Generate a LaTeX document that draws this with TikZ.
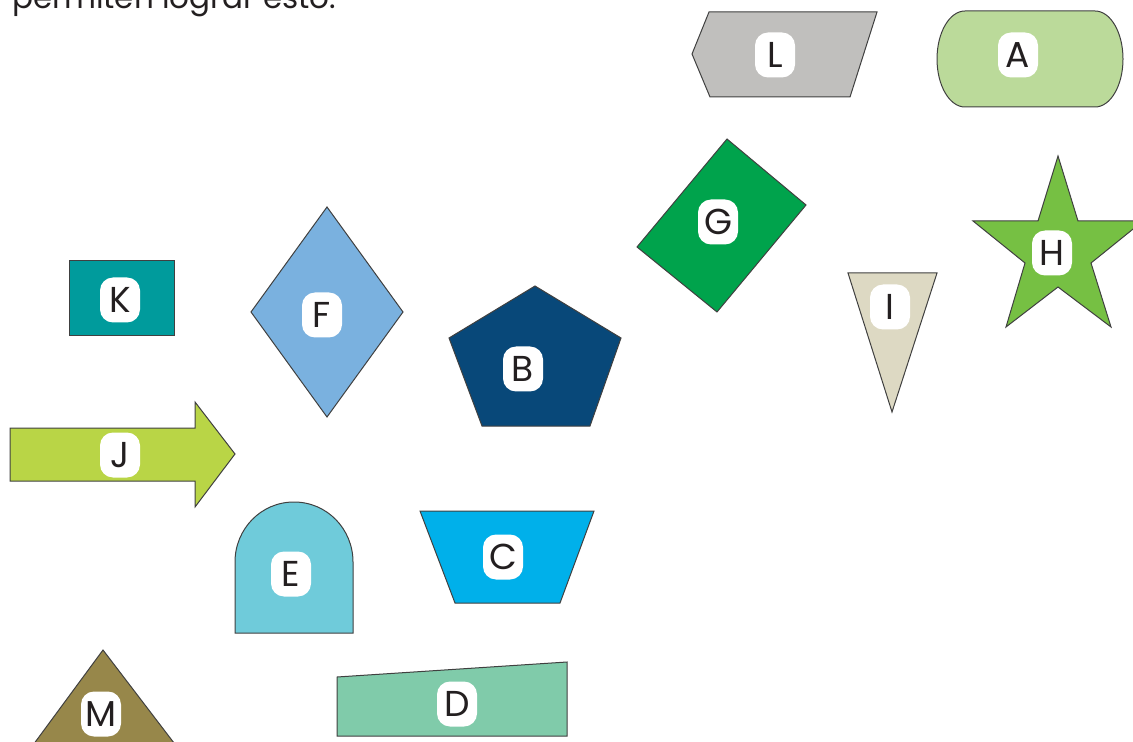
\documentclass[tikz,border=0pt]{standalone}
\usepackage{fontspec}
\setmainfont{Poppins}
\usepackage{tikz}
\definecolor{inkdark}{RGB}{35,31,32}
\definecolor{grayL}{RGB}{192,191,189}
\definecolor{greenA}{RGB}{187,218,154}
\definecolor{greenG}{RGB}{0,163,76}
\definecolor{greenH}{RGB}{118,192,67}
\definecolor{beigeI}{RGB}{221,217,195}
\definecolor{tealK}{RGB}{0,155,156}
\definecolor{blueF}{RGB}{122,177,223}
\definecolor{blueB}{RGB}{8,72,121}
\definecolor{limeJ}{RGB}{185,213,70}
\definecolor{cyanE}{RGB}{111,203,218}
\definecolor{cyanC}{RGB}{0,176,234}
\definecolor{greenD}{RGB}{128,203,170}
\definecolor{oliveM}{RGB}{151,135,74}

\begin{document}
\begin{tikzpicture}[x=0.5pt, y=-0.5pt,
  piece/.style={draw=black!75, line width=0.5pt},
  tag/.style={fill=white, rounded corners=6.5pt, minimum width=20pt, minimum height=22.5pt,
    inner sep=0pt, text height=12.6pt, text depth=0pt, text=inkdark,
    font=\fontsize{18}{18}\selectfont}]
\useasboundingbox (0,0) rectangle (1133,742);
\clip (0,0) rectangle (1133,742);
\node[anchor=base west, inner sep=0pt, text=inkdark, font=\fontsize{15.5}{18}\selectfont] (intro) at (12,9) {permiten lograr esto.};
\draw[piece, fill=grayL] (709,12) -- (877,12) -- (850,97) -- (710,97) -- (692,54) -- cycle;
\draw[piece, fill=greenA] (965,11) -- (1095,11) .. controls (1110.5,11) and (1123,32.5) .. (1123,59)
  .. controls (1123,85.5) and (1110.5,107) .. (1095,107) -- (965,107)
  .. controls (949.5,107) and (937,85.5) .. (937,59) .. controls (937,32.5) and (949.5,11) .. (965,11) -- cycle;
\draw[piece, fill=greenG] (727,139) -- (806,205) -- (717,312) -- (637,247) -- cycle;
\draw[piece, fill=greenH] (1058,156) -- (1078,221) -- (1143,221) -- (1091,263) -- (1111,327) -- (1058,287)
  -- (1006,327) -- (1025,263) -- (973,221) -- (1038,221) -- cycle;
\draw[piece, fill=beigeI] (848,273) -- (937,273) -- (892,412) -- cycle;
\draw[piece, fill=tealK] (69,261) rectangle (174,336);
\draw[piece, fill=blueF] (327,207) -- (403,312) -- (327,417) -- (251,312) -- cycle;
\draw[piece, fill=blueB] (535,286) -- (621,338) -- (590,426) -- (482,426) -- (449,338) -- cycle;
\draw[piece, fill=limeJ] (10,428) -- (195,428) -- (195,402) -- (235,454) -- (195,507) -- (195,481) -- (10,481) -- cycle;
\draw[piece, fill=cyanE] (235,633) -- (235,562) .. controls (235,529) and (261,502) .. (294,502)
  .. controls (327,502) and (353,529) .. (353,562) -- (353,633) -- cycle;
\draw[piece, fill=cyanC] (420,511) -- (594,511) -- (560,603) -- (455,603) -- cycle;
\draw[piece, fill=greenD] (337,677) -- (567,662) -- (567,736) -- (337,736) -- cycle;
\draw[piece, fill=oliveM] (103,650) -- (187,760) -- (22,760) -- cycle;
\node[tag] (tagL) at (775,55) {L};
\node[tag] (tagA) at (1018,55) {A};
\node[tag] (tagG) at (718,222) {G};
\node[tag] (tagH) at (1052,253) {H};
\node[tag] (tagI) at (890,307) {I};
\node[tag] (tagK) at (120,300) {K};
\node[tag] (tagF) at (322,315) {F};
\node[tag] (tagB) at (523,369) {B};
\node[tag] (tagJ) at (120,455) {J};
\node[tag] (tagE) at (291,574) {E};
\node[tag] (tagC) at (503,557) {C};
\node[tag] (tagD) at (457,704) {D};
\node[tag] (tagM) at (101,714) {M};
\end{tikzpicture}
\end{document}
